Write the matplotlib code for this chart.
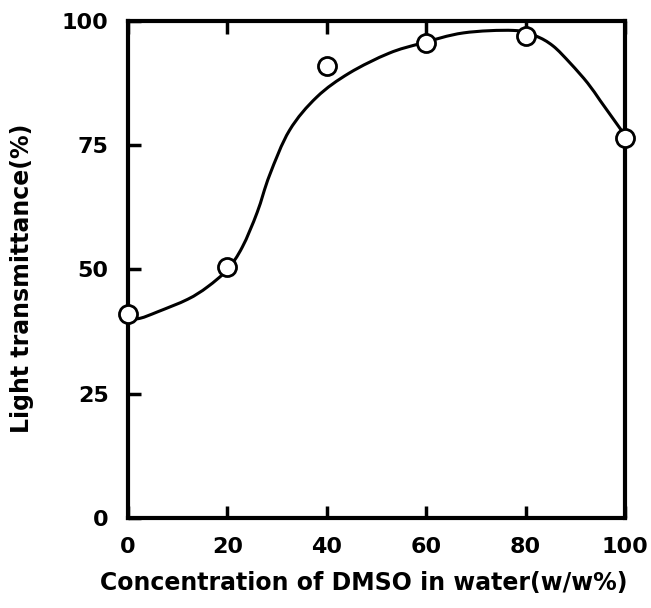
import matplotlib
matplotlib.use("Agg")
import matplotlib.pyplot as plt
from matplotlib.path import Path
from matplotlib.patches import PathPatch

# measured points
conc = [0, 20, 40, 60, 80, 100]
transmittance = [41, 50.5, 91, 95.5, 97, 76.5]

# hand-drawn trend curve
curve_x = [0, 2.5, 6, 12, 16, 20, 23, 26, 28.5, 32.5, 38, 44.5, 52.5, 59, 67.5, 77.5, 82, 85.5, 89, 92.5, 95, 97.5, 100]
curve_y = [40, 40.2, 41.5, 44, 46.5, 50, 54.5, 61.5, 69, 78, 84.7, 89.5, 93.5, 95.5, 97.6, 98.1, 97, 95, 91.5, 87.5, 84, 80.5, 77]

xticks = [0, 20, 40, 60, 80, 100]
yticks = [0, 25, 50, 75, 100]


def smooth_path(xs, ys):
    # Catmull-Rom through the read points, drawn as cubic Bezier segments
    pts = list(zip(xs, ys))
    verts = [pts[0]]
    codes = [Path.MOVETO]
    n = len(pts)
    for i in range(n - 1):
        p0 = pts[max(i - 1, 0)]
        p1 = pts[i]
        p2 = pts[i + 1]
        p3 = pts[min(i + 2, n - 1)]
        c1 = (p1[0] + (p2[0] - p0[0]) / 6, p1[1] + (p2[1] - p0[1]) / 6)
        c2 = (p2[0] - (p3[0] - p1[0]) / 6, p2[1] - (p3[1] - p1[1]) / 6)
        verts += [c1, c2, p2]
        codes += [Path.CURVE4] * 3
    return Path(verts, codes)


plt.rcParams["font.family"] = "DejaVu Sans"
plt.rcParams["font.weight"] = "bold"

fig = plt.figure(figsize=(6.51, 6.08), dpi=100)
ax = fig.add_axes([0.1966, 0.148, 0.7634, 0.8175])

ax.add_patch(PathPatch(smooth_path(curve_x, curve_y), fill=False,
                       edgecolor="black", lw=2.2, zorder=2, clip_on=False))
ax.plot(conc, transmittance, "o", ms=13, mfc="white", mec="black", mew=2,
        zorder=3, clip_on=False)

ax.set_xlim(0, 100)
ax.set_ylim(0, 100)
ax.set_xticks(xticks)
ax.set_yticks(yticks)
ax.tick_params(direction="in", length=9, width=2.5, labelsize=16, pad=14,
               top=True, right=False)
for s in ax.spines.values():
    s.set_linewidth(3)

ax.set_xlabel("Concentration of DMSO in water(w/w%)", fontsize=17,
              fontweight="bold", va="center")
ax.set_ylabel("Light transmittance(%)", fontsize=17, fontweight="bold",
              va="center")
ax.xaxis.set_label_coords(0.475, -0.131)
ax.yaxis.set_label_coords(-0.213, 0.483)

fig.savefig("out.png", dpi=100)
